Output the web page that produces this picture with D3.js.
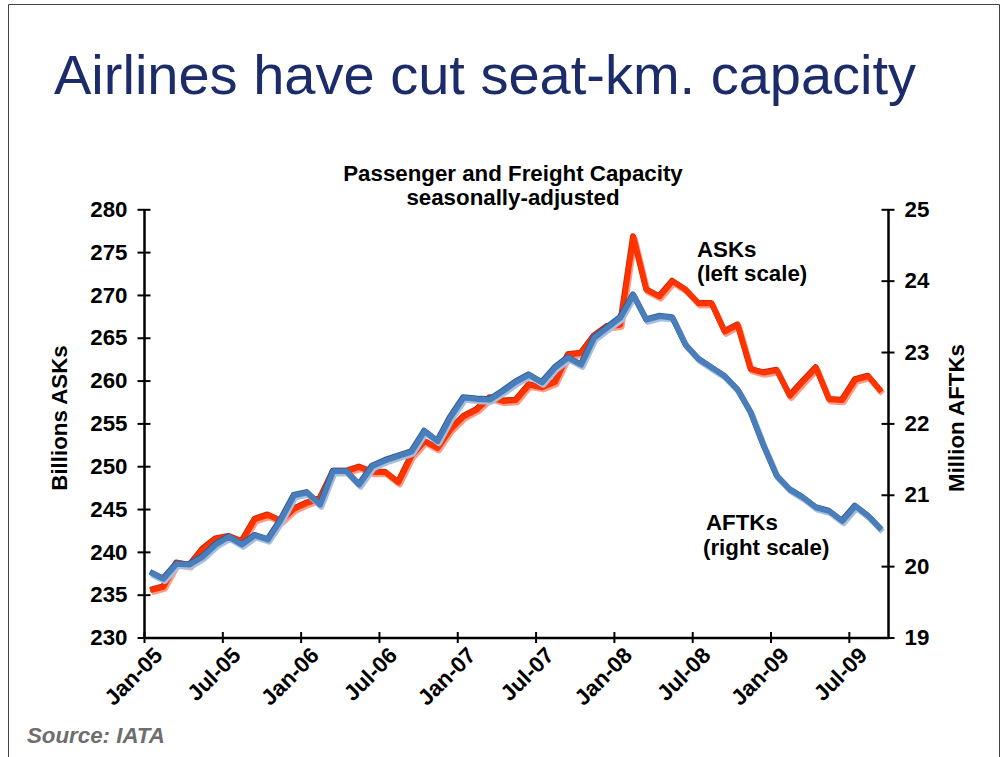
<!DOCTYPE html>
<html>
<head>
<meta charset="utf-8">
<script src="https://cdn.jsdelivr.net/npm/d3@7"></script>
<style>
  html, body { margin: 0; padding: 0; background: #fff; }
  svg { display: block; }
  text { font-family: "Liberation Sans", Arial, sans-serif; }
</style>
</head>
<body>
<svg id="chart" width="1004" height="757"></svg>
<script>
// Months Jan-05 .. Sep-09 (57 points)
const asks = [235.5,235.9,238.7,238.4,240.3,241.5,241.8,241.2,243.8,244.3,243.6,245.0,
  245.7,246.2,249.4,249.4,249.9,249.3,249.3,248.1,251.2,252.9,252.1,254.3,
  255.8,256.6,258.0,257.6,257.7,259.5,259.2,259.8,263.0,263.2,265.2,266.3,
  266.5,276.8,270.6,269.8,271.6,270.6,269.0,269.0,265.7,266.5,261.3,260.9,
  261.2,258.2,259.9,261.5,257.8,257.7,260.1,260.5,258.7];
const aftks = [19.91,19.82,20.03,20.02,20.13,20.30,20.41,20.30,20.43,20.37,20.65,20.99,
  21.03,20.86,21.33,21.33,21.14,21.40,21.48,21.54,21.60,21.89,21.75,22.09,
  22.36,22.34,22.33,22.45,22.58,22.68,22.57,22.78,22.92,22.82,23.20,23.34,
  23.48,23.80,23.45,23.50,23.48,23.10,22.90,22.78,22.66,22.47,22.15,21.68,
  21.26,21.07,20.96,20.82,20.77,20.63,20.84,20.70,20.51];
const xTickIdx = [0,6,12,18,24,30,36,42,48,54];
const xTickLabels = ["Jan-05","Jul-05","Jan-06","Jul-06","Jan-07","Jul-07","Jan-08","Jul-08","Jan-09","Jul-09"];
const leftTicks = [230,235,240,245,250,255,260,265,270,275,280];
const rightTicks = [19,20,21,22,23,24,25];

const FS = 22.3;
const svg = d3.select("#chart");
const L = 144, R = 888, T = 209.3, B = 637.5;
const x = d3.scaleLinear().domain([0, 57]).range([L, R]);
const yL = d3.scaleLinear().domain([230, 280]).range([B, T]);
const yR = d3.scaleLinear().domain([19, 25]).range([B, T]);

// frame
svg.append("path").attr("d", "M8.5,757 V4.5 H999.5 V757")
  .attr("fill", "none").attr("stroke", "#444").attr("stroke-width", 1);

// title
svg.append("text").attr("x", 54).attr("y", 94)
  .attr("font-size", 56).attr("fill", "#1c2c6a")
  .text("Airlines have cut seat-km. capacity");

svg.append("text").attr("x", 513).attr("y", 181).attr("text-anchor", "middle")
  .attr("font-size", FS).attr("font-weight", "bold")
  .text("Passenger and Freight Capacity");
svg.append("text").attr("x", 513).attr("y", 205).attr("text-anchor", "middle")
  .attr("font-size", FS).attr("font-weight", "bold")
  .text("seasonally-adjusted");

// lines
const lineL = d3.line().x((d, i) => x(i + 0.5)).y(d => yL(d));
const lineR = d3.line().x((d, i) => x(i + 0.5)).y(d => yR(d));

function drawSeries(gen, data, shadow, dark, main) {
  svg.append("path").datum(data).attr("d", gen)
    .attr("transform", "translate(1.2,2)")
    .attr("fill", "none").attr("stroke", shadow).attr("stroke-width", 6)
    .attr("stroke-linejoin", "round");
  svg.append("path").datum(data).attr("d", gen)
    .attr("transform", "translate(-0.6,-0.8)")
    .attr("fill", "none").attr("stroke", dark).attr("stroke-width", 5.5)
    .attr("stroke-linejoin", "round");
  svg.append("path").datum(data).attr("d", gen)
    .attr("fill", "none").attr("stroke", main).attr("stroke-width", 5.5)
    .attr("stroke-linejoin", "round");
}
drawSeries(lineL, asks, "#ff9c86", "#c42800", "#ff3300");
drawSeries(lineR, aftks, "#a6bfe0", "#2f5a94", "#4a7ebb");

// axes
const axStyle = g => {
  g.select(".domain").attr("stroke", "#000").attr("stroke-width", 2.5);
  g.selectAll(".tick line").attr("stroke", "#000").attr("stroke-width", 2);
  g.selectAll(".tick text").attr("font-size", FS).attr("font-weight", "bold")
    .attr("fill", "#000").attr("font-family", "Liberation Sans, Arial, sans-serif");
};

const gL = svg.append("g").attr("transform", `translate(${L},0)`)
  .call(d3.axisLeft(yL).tickValues(leftTicks).tickSize(6.5).tickSizeOuter(0).tickPadding(10).tickFormat(d3.format("d")))
  .call(axStyle);
gL.selectAll(".tick line").attr("x1", 6.5);

const gR = svg.append("g").attr("transform", `translate(${R},0)`)
  .call(d3.axisRight(yR).tickValues(rightTicks).tickSize(6.5).tickSizeOuter(0).tickPadding(10).tickFormat(d3.format("d")))
  .call(axStyle);
gR.selectAll(".tick line").attr("x1", -6.5);

const gX = svg.append("g").attr("transform", `translate(0,${B})`)
  .call(d3.axisBottom(x).tickValues(xTickIdx).tickSize(5.5).tickSizeOuter(0)
    .tickFormat((d, i) => xTickLabels[i]))
  .call(axStyle);
gX.selectAll(".tick line").attr("y1", -5.5);
gX.selectAll(".tick text")
  .attr("text-anchor", "end")
  .attr("transform", "translate(8,8) rotate(-45)")
  .attr("dy", "0.71em").attr("y", 0).attr("x", 0);

// axis titles
svg.append("text").attr("transform", "translate(67,418) rotate(-90)")
  .attr("text-anchor", "middle").attr("font-size", FS).attr("font-weight", "bold")
  .text("Billions ASKs");
svg.append("text").attr("transform", "translate(964,418) rotate(-90)")
  .attr("text-anchor", "middle").attr("font-size", FS).attr("font-weight", "bold")
  .text("Million AFTKs");

// series annotations
svg.append("text").attr("x", 697).attr("y", 257).attr("font-size", FS).attr("font-weight", "bold").text("ASKs");
svg.append("text").attr("x", 697).attr("y", 281).attr("font-size", FS).attr("font-weight", "bold").text("(left scale)");
svg.append("text").attr("x", 706).attr("y", 530).attr("font-size", FS).attr("font-weight", "bold").text("AFTKs");
svg.append("text").attr("x", 703).attr("y", 555).attr("font-size", FS).attr("font-weight", "bold").text("(right scale)");

// source
svg.append("text").attr("x", 27).attr("y", 743).attr("font-size", 22.3)
  .attr("font-weight", "bold").attr("font-style", "italic").attr("fill", "#6e6e6e")
  .text("Source: IATA");
</script>
</body>
</html>
